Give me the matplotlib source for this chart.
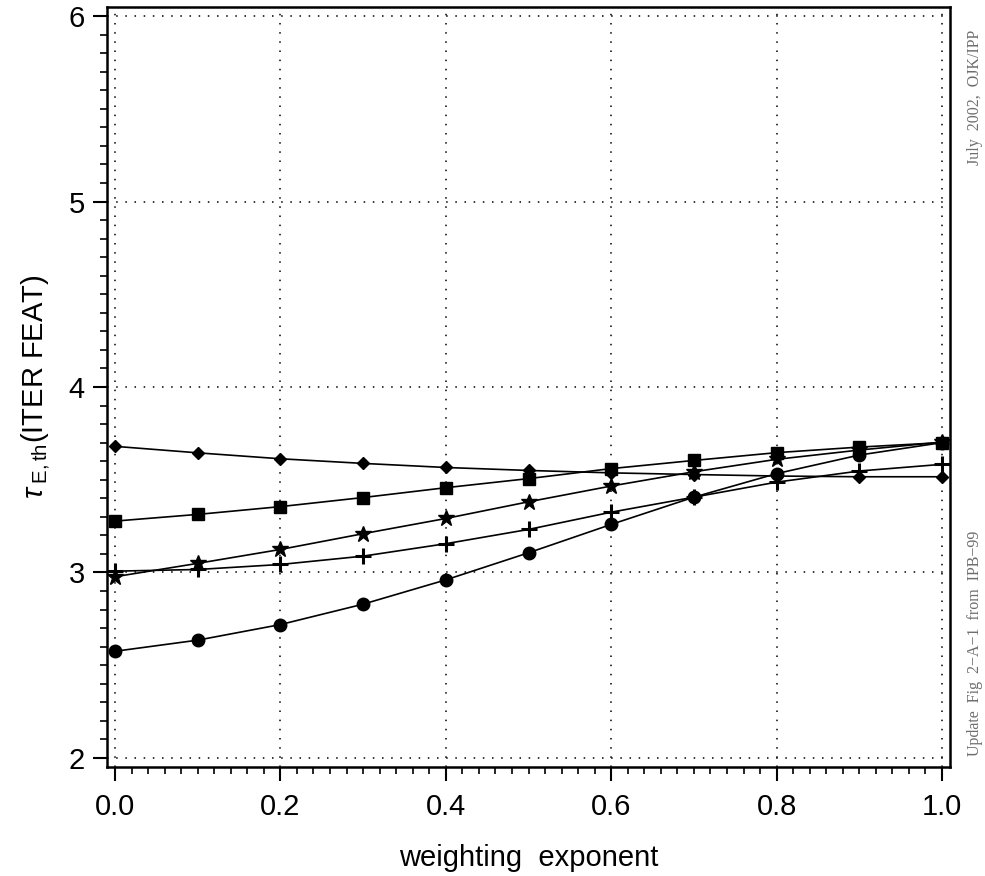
import matplotlib
matplotlib.use("Agg")
import matplotlib.pyplot as plt
from matplotlib.ticker import MultipleLocator

plt.rcParams['font.family'] = ['Liberation Sans', 'DejaVu Sans']
plt.rcParams['mathtext.fontset'] = 'custom'
plt.rcParams['mathtext.rm'] = 'Liberation Sans'
plt.rcParams['mathtext.it'] = 'Liberation Sans:italic'

# weighting exponent values
weights = [0.0, 0.1, 0.2, 0.3, 0.4, 0.5, 0.6, 0.7, 0.8, 0.9, 1.0]

# confinement time predictions for ITER FEAT
tau_diamond = [3.68, 3.645, 3.613, 3.588, 3.566, 3.55, 3.537, 3.528, 3.52, 3.516, 3.516]
tau_square = [3.277, 3.313, 3.355, 3.404, 3.457, 3.506, 3.56, 3.604, 3.646, 3.676, 3.70]
tau_star = [2.977, 3.049, 3.124, 3.209, 3.291, 3.381, 3.466, 3.543, 3.61, 3.66, 3.703]
tau_plus = [3.007, 3.016, 3.043, 3.088, 3.155, 3.232, 3.325, 3.406, 3.487, 3.547, 3.583]
tau_circle = [2.575, 2.635, 2.719, 2.829, 2.96, 3.106, 3.259, 3.406, 3.533, 3.633, 3.70]

fig = plt.figure(figsize=(9.85, 8.76), dpi=100)
ax = fig.add_axes([107 / 985, 1 - 767 / 876, (950 - 107) / 985, (767 - 7) / 876])

lw = 1.2
ax.plot(weights, tau_diamond, color='black', lw=lw, marker='D', ms=6.5, zorder=3)
ax.plot(weights, tau_square, color='black', lw=lw, marker='s', ms=9, zorder=3)
ax.plot(weights, tau_star, color='black', lw=lw, marker='*', ms=12, zorder=3)
ax.plot(weights, tau_plus, color='black', lw=lw, marker='+', ms=12, mew=2.2, zorder=3)
ax.plot(weights, tau_circle, color='black', lw=lw, marker='o', ms=9, zorder=3)

ax.set_xlim(-0.0097, 1.0097)
ax.set_ylim(1.951, 6.049)

ax.xaxis.set_major_locator(MultipleLocator(0.2))
ax.xaxis.set_minor_locator(MultipleLocator(0.02))
ax.yaxis.set_major_locator(MultipleLocator(1))
ax.yaxis.set_minor_locator(MultipleLocator(0.1))
ax.set_xticks([0.0, 0.2, 0.4, 0.6, 0.8, 1.0])
ax.set_xticklabels(['0.0', '0.2', '0.4', '0.6', '0.8', '1.0'])
ax.set_yticks([2, 3, 4, 5, 6])
ax.set_yticklabels(['2', '3', '4', '5', '6'])

ax.tick_params(axis='both', which='major', direction='out', length=10, width=1.5,
               labelsize=21, color='black')
ax.tick_params(axis='both', which='minor', direction='out', length=5, width=1.2)
ax.tick_params(axis='x', which='major', pad=9)
ax.tick_params(axis='y', which='major', pad=6)
ax.tick_params(top=False, right=False, which='both')

for sp in ax.spines.values():
    sp.set_linewidth(1.8)

ax.grid(True, which='major', color='black', linestyle=(0, (1, 5)), linewidth=1.1)

ax.set_xlabel('weighting  exponent', fontsize=21, labelpad=16)
ax.set_ylabel(r'$\tau_{\;\mathrm{E,th}}$(ITER FEAT)', fontsize=21, labelpad=12)

fig.text(975 / 985, 1 - 97 / 876, 'July  2002,  OJK/IPP', rotation=90,
         ha='center', va='center', fontsize=11.5, color='#6e6e6e',
         family=['Liberation Serif', 'DejaVu Serif'])
fig.text(975 / 985, 1 - 643 / 876, 'Update  Fig  2\u2212A\u22121  from  IPB\u221299', rotation=90,
         ha='center', va='center', fontsize=11.5, color='#6e6e6e',
         family=['Liberation Serif', 'DejaVu Serif'])

fig.savefig('out.png', dpi=100)
